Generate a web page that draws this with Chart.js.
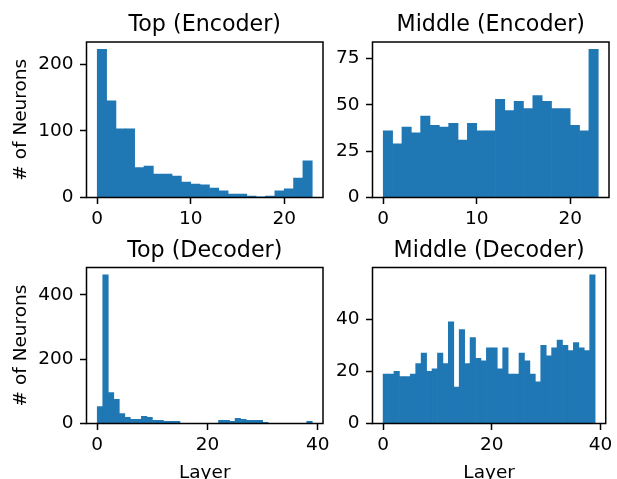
<!DOCTYPE html>
<html>
<head>
<meta charset="utf-8">
<script src="https://cdn.jsdelivr.net/npm/chart.js@4.4.1/dist/chart.umd.min.js"></script>
<style>
html,body{margin:0;padding:0;background:#fff;overflow:hidden;width:617px;height:479px;position:relative;}
canvas{position:absolute;}
</style>
</head>
<body>
<canvas id="c1" width="345" height="240" style="left:0px;top:0px"></canvas>
<canvas id="c2" width="317" height="240" style="left:300px;top:0px"></canvas>
<canvas id="c3" width="345" height="260" style="left:0px;top:230px"></canvas>
<canvas id="c4" width="317" height="260" style="left:300px;top:230px"></canvas>
<script>
// ---- data (histogram bins: left edge of each bin, width 1 layer) ----
const encoderBinStarts = [0,1,2,3,4,5,6,7,8,9,10,11,12,13,14,15,16,17,18,19,20,21,22];
const decoderBinStarts = [0,1,2,3,4,5,6,7,8,9,10,11,12,13,14,15,16,17,18,19,20,21,22,23,24,25,26,27,28,29,30,31,32,33,34,35,36,37,38];

const topEncoderCounts    = [222,145,103,103,45,47,35,35,32,23,20,19,14,10,5,5,2,1,2,10,13,29,55];
const middleEncoderCounts = [36,29,38,35,44,39,38,40,31,40,36,36,53,47,52,48,55,52,48,48,39,36,80];
const topDecoderCounts    = [53,462,96,75,31,19,13,13,22,19,10,10,7,7,7,0,0,0,0,0,0,0,10,10,7,16,13,10,10,10,4,0,0,0,0,0,0,0,7];
const middleDecoderCounts = [19,19,20,18,18,19,23,27,20,21,27,23,39,14,36,23,33,25,24,29,29,21,29,19,19,27,24,19,16,30,26,29,32,30,28,31,29,28,57];

const encoderXTicks = [0,10,20];
const decoderXTicks = [0,20,40];
const topEncoderYTicks = [0,100,200];
const middleEncoderYTicks = [0,25,50,75];
const topDecoderYTicks = [0,200,400];
const middleDecoderYTicks = [0,20,40];

const panelTitles = ['Top (Encoder)','Middle (Encoder)','Top (Decoder)','Middle (Decoder)'];
const yAxisLabel = '# of Neurons';
const xAxisLabel = 'Layer';

// ---- styling ----
const FONT = "'DejaVu Sans', sans-serif";
const BAR_COLOR = '#1f77b4';
const TITLE_SIZE = 22.2;
const TICK_SIZE = 18.5;

// axes frame (all four spines) drawn above the bars
const boxPlugin = {
  id: 'axesBox',
  afterDatasetsDraw(chart) {
    const {ctx, chartArea: a} = chart;
    ctx.save();
    ctx.strokeStyle = '#000';
    ctx.lineWidth = 1.5;
    ctx.strokeRect(a.left, a.top, a.right - a.left, a.bottom - a.top);
    ctx.restore();
  }
};

// panel title centred over the plot area (matplotlib style)
const panelTitlePlugin = {
  id: 'panelTitle',
  afterDraw(chart, args, opts) {
    if (!opts || !opts.text) return;
    const {ctx, chartArea: a} = chart;
    ctx.save();
    ctx.fillStyle = '#000';
    ctx.font = `normal ${TITLE_SIZE}px ${FONT}`;
    ctx.textAlign = 'center';
    ctx.textBaseline = 'alphabetic';
    ctx.fillText(opts.text, (a.left + a.right) / 2, a.top - opts.gap);
    ctx.restore();
  }
};

function makePanel(id, binStarts, counts, xTicks, yTicks, title, o) {
  const xMin = binStarts[0];
  const xMax = binStarts[binStarts.length - 1] + 1;
  const span = xMax - xMin;
  const yMax = Math.max(...counts) * 1.05;
  new Chart(document.getElementById(id), {
    type: 'bar',
    data: {
      datasets: [{
        data: binStarts.map((s, i) => ({x: s + 0.5, y: counts[i]})),
        backgroundColor: BAR_COLOR,
        borderWidth: 0,
        barPercentage: 1,
        categoryPercentage: 1,
        grouped: false
      }]
    },
    options: {
      responsive: false,
      animation: false,
      devicePixelRatio: 1,
      layout: {padding: {left: 0, right: o.padRight, top: o.chartTop, bottom: 0}},
      plugins: {
        legend: {display: false},
        tooltip: {enabled: false},
        title: {display: false},
        panelTitle: {text: title, gap: 11}
      },
      scales: {
        x: {
          type: 'linear', min: xMin - 0.05 * span, max: xMax + 0.05 * span, offset: false,
          afterBuildTicks: s => { s.ticks = xTicks.map(v => ({value: v})); },
          afterFit: s => { s.height = o.xAxisH; },
          grid: {display: true, drawOnChartArea: false, drawTicks: true, tickLength: 6.5, tickWidth: 1.5, tickColor: '#000', offset: false},
          border: {display: false},
          ticks: {color: '#000', font: {family: FONT, size: TICK_SIZE}, padding: 4.5, maxRotation: 0, autoSkip: false, callback: v => String(v)},
          title: o.xLabel ? {display: true, text: xAxisLabel, color: '#000', font: {family: FONT, size: TICK_SIZE}, padding: {top: 0, bottom: o.xLabelPad}} : {display: false}
        },
        y: {
          type: 'linear', min: 0, max: yMax,
          afterBuildTicks: s => { s.ticks = yTicks.map(v => ({value: v})); },
          afterFit: s => { s.width = o.yAxisW; },
          grid: {display: true, drawOnChartArea: false, drawTicks: true, tickLength: 6.5, tickWidth: 1.5, tickColor: '#000'},
          border: {display: false},
          ticks: {color: '#000', font: {family: FONT, size: TICK_SIZE}, padding: 6.5, autoSkip: false, callback: v => String(v)},
          title: o.yLabel ? {display: true, text: yAxisLabel, color: '#000', font: {family: FONT, size: TICK_SIZE}, padding: {top: 10, bottom: 0}} : {display: false}
        }
      }
    },
    plugins: [boxPlugin, panelTitlePlugin]
  });
}

makePanel('c1', encoderBinStarts, topEncoderCounts, encoderXTicks, topEncoderYTicks, panelTitles[0],
  {padRight: 22, chartTop: 42, xAxisH: 42.5, yAxisW: 86.5, yLabel: true, xLabel: false});
makePanel('c2', encoderBinStarts, middleEncoderCounts, encoderXTicks, middleEncoderYTicks, panelTitles[1],
  {padRight: 8, chartTop: 42, xAxisH: 42.5, yAxisW: 72.5, yLabel: false, xLabel: false});
makePanel('c3', decoderBinStarts, topDecoderCounts, decoderXTicks, topDecoderYTicks, panelTitles[2],
  {padRight: 22, chartTop: 37.5, xAxisH: 66.5, yAxisW: 86.5, yLabel: true, xLabel: true, xLabelPad: 5.3});
makePanel('c4', decoderBinStarts, middleDecoderCounts, decoderXTicks, middleDecoderYTicks, panelTitles[3],
  {padRight: 8, chartTop: 37.5, xAxisH: 66.5, yAxisW: 72.5, yLabel: false, xLabel: true, xLabelPad: 5.3});
</script>
</body>
</html>
